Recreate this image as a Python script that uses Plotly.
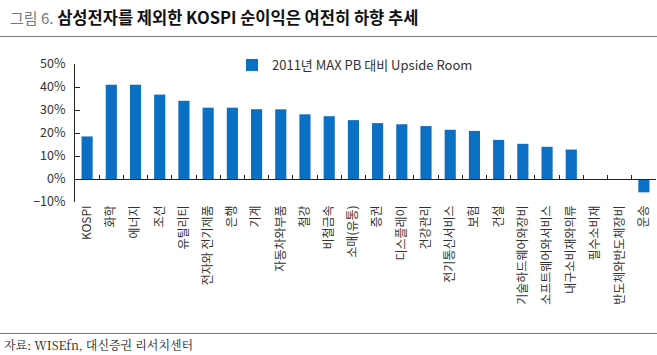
import plotly.graph_objects as go

categories = ["KOSPI", "화학", "에너지", "조선", "유틸리티", "전자와 전기제품", "은행", "기계",
              "자동차와부품", "철강", "비철금속", "소매(유통)", "증권", "디스플레이", "건강관리",
              "전기통신서비스", "보험", "건설", "기술하드웨어와장비", "소프트웨어와서비스",
              "내구소비재와의류", "필수소비재", "반도체와반도체장비", "운송"]
values = [18.5, 41.0, 41.0, 36.7, 34.0, 31.0, 31.0, 30.3, 30.3, 28.1, 27.3, 25.6, 24.3, 23.8,
          23.0, 21.4, 20.9, 17.0, 15.3, 14.0, 12.8, 0.0, 0.0, -5.8]
series_name = "2011년 MAX PB 대비 Upside Room"
ytick_vals = [-10, 0, 10, 20, 30, 40, 50]
ytick_text = ["\u221210%", "0%", "10%", "20%", "30%", "40%", "50%"]

BLUE = "#0b6fc3"
FONT = "Noto Sans CJK KR"
W, H = 657, 355


def px(x):
    return x / W


def py(y):
    return 1 - y / H


fig = go.Figure()
fig.add_trace(go.Bar(x=categories, y=values, name=series_name, marker_color=BLUE,
                     marker_line_width=0, xaxis="x", yaxis="y"))
# invisible copy carrying the category labels at the bottom of the plot
fig.add_trace(go.Bar(x=categories, y=values, showlegend=False, marker_opacity=0,
                     hoverinfo="skip", xaxis="x2", yaxis="y"))

ymin, ymax = -10, 50

fig.update_layout(
    width=W, height=H,
    margin=dict(l=0, r=0, t=0, b=0, pad=0, autoexpand=False),
    paper_bgcolor="white", plot_bgcolor="rgba(0,0,0,0)",
    bargap=0.54,
    font=dict(family=FONT, color="#333333", size=12),
    showlegend=True,
    legend=dict(x=px(232), y=py(65), xanchor="left", yanchor="middle",
                font=dict(size=13, color="#333333", family=FONT),
                bgcolor="rgba(0,0,0,0)", itemwidth=30),
    xaxis=dict(type="category", domain=[px(75), px(656)], anchor="free", position=py(179),
               showline=True, linecolor="#222222", linewidth=1,
               ticks="inside", tickson="boundaries", ticklen=4, tickcolor="#222222",
               showticklabels=False, showgrid=False, zeroline=False, automargin=False),
    xaxis2=dict(type="category", domain=[px(75), px(656)], overlaying="x", matches="x",
                anchor="y", side="bottom",
                showline=False, ticks="", showticklabels=True, tickangle=-90,
                tickfont=dict(size=12, color="#333333", family=FONT),
                showgrid=False, zeroline=False, automargin=False),
    yaxis=dict(range=[ymin, ymax], domain=[py(202), py(64)],
               tickvals=ytick_vals, ticktext=ytick_text,
               showline=True, linecolor="#222222", linewidth=1,
               ticks="inside", ticklen=5, tickcolor="#222222",
               tickfont=dict(size=12.5, color="#333333", family=FONT),
               showgrid=False, zeroline=False, ticklabelstandoff=6, automargin=False),
)

# title and source note
fig.add_annotation(xref="paper", yref="paper", x=px(8), y=py(17),
                   xanchor="left", yanchor="middle", showarrow=False,
                   text="<span style='color:#777777;font-size:15px'>그림 6.</span> <b>삼성전자를 제외한 KOSPI 순이익은 여전히 하향 추세</b>",
                   font=dict(size=16.5, color="#111111", family=FONT))
fig.add_annotation(xref="paper", yref="paper", x=px(2), y=py(344),
                   xanchor="left", yanchor="middle", showarrow=False,
                   text="자료: WISEfn, 대신증권 리서치센터",
                   font=dict(size=12, color="#222222", family="Noto Serif CJK KR, Liberation Serif, serif"))

# horizontal rules under the title and above the source note, drawn as plain page elements
rules_js = """
(function(){
  var gd = document.querySelector('.plotly-graph-div');
  [36, 333].forEach(function(t){
    var d = document.createElement('div');
    d.style.position = 'absolute';
    d.style.left = '0px';
    d.style.top = t + 'px';
    d.style.width = '657px';
    d.style.height = '0px';
    d.style.borderTop = '1px solid #777777';
    d.style.pointerEvents = 'none';
    document.body.appendChild(d);
  });
})();
"""

fig.write_html("out.html", config={"displayModeBar": False},
               post_script="document.body.style.margin='0';document.body.style.padding='0';" + rules_js)
